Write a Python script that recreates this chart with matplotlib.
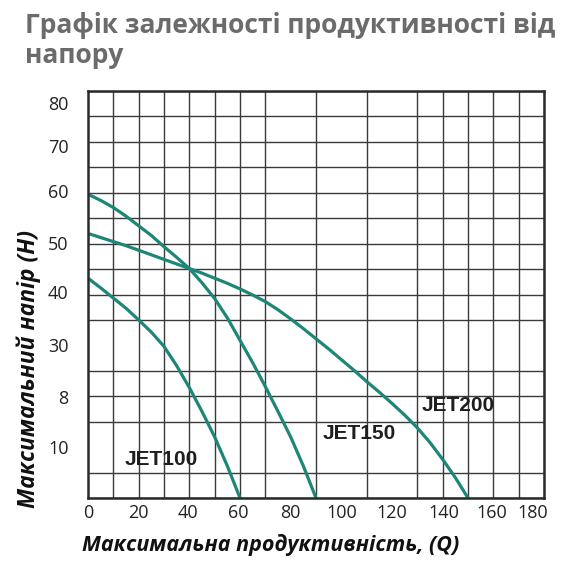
import numpy as np
import matplotlib
matplotlib.use('agg')
import matplotlib.pyplot as plt

# Дані кривих (Q, H)
q_jet100 = [0, 5, 10, 15, 20, 25, 30, 35, 40, 45, 50, 55, 60]
h_jet100 = [43.2, 41.3, 39.3, 37.3, 35.0, 32.6, 29.8, 26.0, 21.7, 17.0, 12.0, 6.3, 0.0]

q_jet150 = [0, 5, 10, 15, 20, 25, 30, 35, 40, 45, 50, 55, 60, 65, 70, 75, 80, 85, 90]
h_jet150 = [59.7, 58.5, 57.1, 55.4, 53.5, 51.6, 49.4, 47.3, 45.1, 42.3, 39.2, 35.4,
            31.0, 26.6, 21.9, 17.0, 12.0, 6.3, 0.0]

q_jet200 = [0, 5, 10, 15, 20, 25, 30, 35, 40, 45, 50, 55, 60, 65, 70, 75, 80, 85, 90,
            95, 100, 105, 110, 115, 120, 125, 130, 135, 140, 145, 150]
h_jet200 = [52.0, 51.2, 50.4, 49.6, 48.7, 47.8, 46.9, 46.0, 45.1, 44.2, 43.2, 42.2,
            41.1, 39.9, 38.6, 37.0, 35.2, 33.3, 31.3, 29.3, 27.2, 25.1, 22.9, 20.8,
            18.6, 16.3, 13.8, 10.9, 7.6, 4.0, 0.0]

names = ['JET100', 'JET150', 'JET200']

# підписи осей (як на оригіналі)
x_tick_pos = [0, 19.7, 39.4, 59.4, 80, 100, 120, 140.5, 159.5, 175.5]
x_tick_lab = ['0', '20', '40', '60', '80', '100', '120', '140', '160', '180']
y_tick_pos = [77.6, 69.2, 60.4, 50.2, 40.4, 30, 19.9, 10]
y_tick_lab = ['80', '70', '60', '50', '40', '30', '8', '10']

teal = '#1d8677'
grid_c = '#3a3a3a'

fig = plt.figure(figsize=(5.68, 5.70), dpi=100)
ax = fig.add_axes([88/568, 1 - 498/570, 456/568, 407/570])

ax.plot(q_jet100, h_jet100, color=teal, lw=2.3, solid_capstyle='butt')
ax.plot(q_jet150, h_jet150, color=teal, lw=2.3, solid_capstyle='butt')
ax.plot(q_jet200, h_jet200, color=teal, lw=2.3, solid_capstyle='butt')

ax.set_xlim(0, 180)
ax.set_ylim(0, 80)

# сітка
ax.set_xticks(np.arange(0, 181, 10), minor=True)
ax.set_yticks(np.arange(0, 81, 5), minor=True)
ax.grid(which='minor', color=grid_c, lw=1.0)
ax.set_axisbelow(True)
ax.tick_params(which='minor', length=0)

ax.set_xticks(x_tick_pos)
ax.set_xticklabels(x_tick_lab)
ax.set_yticks(y_tick_pos)
ax.set_yticklabels(y_tick_lab)
ax.tick_params(which='major', length=0, labelsize=13, colors='#222222')
for lab in ax.get_xticklabels() + ax.get_yticklabels():
    lab.set_family('Open Sans')
ax.tick_params(axis='x', pad=4)
ax.tick_params(axis='y', pad=14)

for s in ax.spines.values():
    s.set_color('#2a2a2a')
    s.set_linewidth(1.8)

# назви моделей
lab_fmt = dict(fontsize=15, fontweight='bold', family='Liberation Sans', color='#1e1e1e', va='center')
ax.text(14.6, 7.5, names[0], **lab_fmt)
ax.text(92.5, 12.6, names[1], **lab_fmt)
ax.text(131.6, 18.1, names[2], **lab_fmt)

ax.text(-0.131, 0.318, 'Максимальний напір (H)', transform=ax.transAxes, rotation=90,
        ha='center', va='center', fontsize=16.5, fontweight='bold', style='italic',
        family='Open Sans', color='#111111')
fig.text(271/568, 1 - 545/570, 'Максимальна продуктивність, (Q)', ha='center', va='center',
         fontsize=15.5, fontweight='bold', style='italic', family='Open Sans', color='#111111')

fig.text(25/568, 1 - 12/570, 'Графік залежності продуктивності від\nнапору', ha='left', va='top',
         fontsize=19, fontweight='bold', family='Open Sans', color='#6b6b6b', linespacing=1.12)

plt.savefig('out.png', dpi=100)
